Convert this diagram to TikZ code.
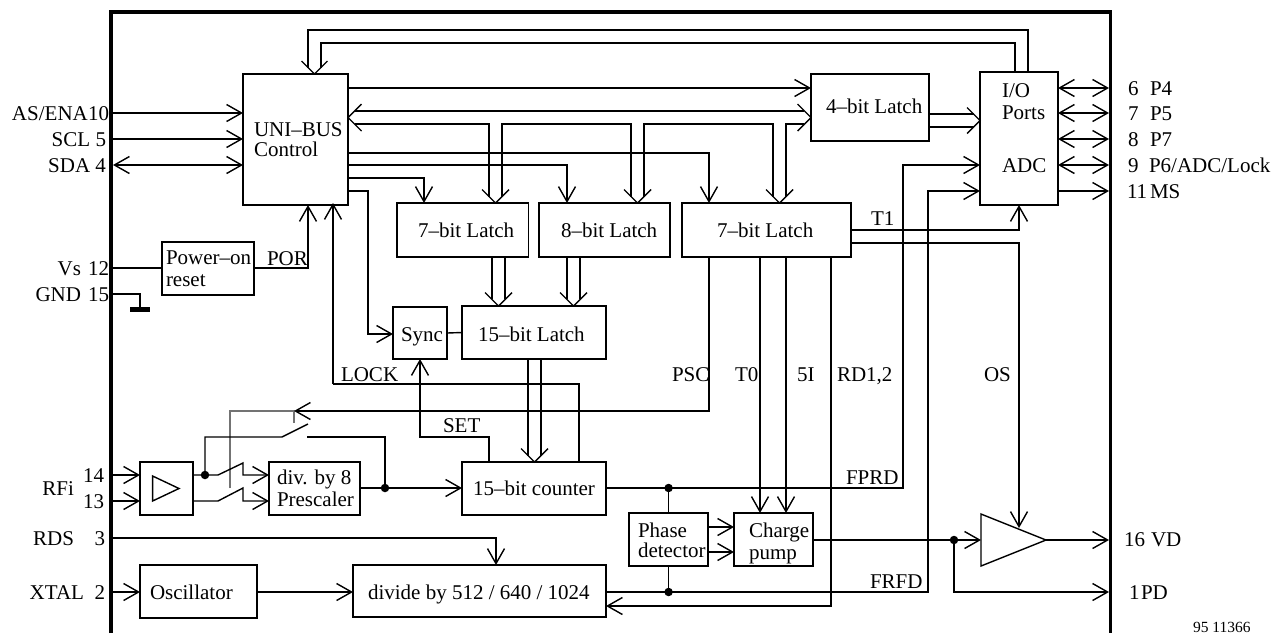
\documentclass[tikz,border=0pt]{standalone}
\usepackage{fontspec}
\setmainfont{Liberation Serif}
\usetikzlibrary{arrows.meta}
\tikzset{
  blk/.style={draw=black,line width=1.4pt,inner sep=0pt,outer sep=0pt,rectangle},
  wire/.style={draw=black,line width=1.4pt},
  ar/.style={wire,-{Straight Barb[length=15pt,width=17pt,line width=1.4pt]}},
  arb/.style={wire,{Straight Barb[length=15pt,width=17pt,line width=1.4pt]}-{Straight Barb[length=15pt,width=17pt,line width=1.4pt]}},
  chev/.style={wire,line join=miter},
  soft/.style={draw=black!55,line width=1.1pt},
  frm/.style={draw=black,line width=3.2pt,line cap=butt,line join=miter},
  txt/.style={inner sep=0pt,outer sep=0pt,font=\fontsize{21}{21}\selectfont},
  tl/.style={txt,anchor=base west},
  tr/.style={txt,anchor=base east},
  dot/.style={circle,fill=black,inner sep=0pt,minimum size=8.5pt}
}
\newcommand{\bx}[5]{\node[blk,minimum width={(#4-#2)*1pt},minimum height={(#5-#3)*1pt}] (#1) at ({(#2+#4)/2},{(#3+#5)/2}) {};}
\newcommand{\chv}[3]{\draw[chev,shift={(#1)},rotate=#3] (-#2,-#2) -- (0,0) -- (-#2,#2);}
\begin{document}
\begin{tikzpicture}[x=1pt,y=-1pt]
\path[use as bounding box] (0,0) rectangle (1272,633);
\fill[white] (0,0) rectangle (1272,633);
% frame
\draw[frm] (111,633) -- (111,12) -- (1110.5,12) -- (1110.5,633);
\coordinate (pl) at (113,0);
\coordinate (pr) at (1109,0);
% blocks
\bx{uni}{243}{74}{348}{205}
\bx{por}{162}{242}{254}{295}
\bx{la}{397}{203}{528.5}{257}
\bx{lb}{539}{203}{670}{257}
\bx{lc}{682}{203}{851}{257}
\bx{lf}{811}{74}{929}{141}
\bx{io}{980}{72}{1058}{205}
\bx{syn}{393}{307}{447}{359}
\bx{lt}{462}{306}{606}{359}
\bx{amp}{140}{462}{193}{515}
\bx{div}{269}{462}{360}{515}
\bx{cnt}{462}{462}{606}{515}
\bx{osc}{140}{565}{257}{618}
\bx{dvd}{353}{565}{606}{617}
\bx{pha}{629}{513}{708}{566}
\bx{chg}{734}{513}{813}{566}
\coordinate (tra) at (981,514); \coordinate (trb) at (981,566); \coordinate (trc) at (1046,540);
\draw[blk] (tra) -- (trc) -- (trb) -- cycle;
\draw[blk] (152.6,476) -- (179,488.5) -- (152.6,501) -- cycle;
% left pins
\draw[ar] (pl |- 0,113) -- (uni.west |- 0,113);
\draw[ar] (pl |- 0,139) -- (uni.west |- 0,139);
\draw[arb] (pl |- 0,165) -- (uni.west |- 0,165);
\draw[wire] (pl |- 0,268) -- (por.west |- 0,268);
\draw[ar] (por.east |- 0,268) -- (308,268) -- (308,205);
\draw[wire] (pl |- 0,294) -- (140,294) -- (140,308);
\fill (130,307) rectangle (150,312);
% top loops
\draw[wire] (io.north -| 1028,0) -- (1028,30) -- (308,30) -- (308,68);
\draw[wire] (io.north -| 1015,0) -- (1015,43) -- (321,43) -- (321,68);
\chv{314.5,74}{13}{270}
% uni right outputs
\draw[ar] (uni.east |- 0,88) -- (lf.west |- 0,88);
\draw[wire] (355,111) -- (804,111);
\draw[wire] (355,124) -- (489,124) -- (489,197);
\draw[wire] (502,197) -- (502,124) -- (631,124) -- (631,197);
\draw[wire] (644,197) -- (644,124) -- (773,124) -- (773,197);
\draw[wire] (786,197) -- (786,124) -- (804,124);
\chv{348,117.5}{13.5}{180}
\chv{495.5,203}{13.5}{270}
\chv{637.5,203}{13.5}{270}
\chv{779.5,203}{13.5}{270}
\chv{811,117.5}{13.5}{0}
\draw[ar] (uni.east |- 0,153) -- (709,153) -- (lc.north -| 709,0);
\draw[ar] (uni.east |- 0,165) -- (567,165) -- (lb.north -| 567,0);
\draw[ar] (uni.east |- 0,178) -- (424,178) -- (la.north -| 424,0);
\draw[ar] (uni.east |- 0,191) -- (368,191) -- (368,334) -- (syn.west |- 0,334);
% latch to latch
\draw[wire] (492,257) -- (492,299);
\draw[wire] (505,257) -- (505,299);
\chv{498.5,306}{13.5}{270}
\draw[wire] (567,257) -- (567,299);
\draw[wire] (580,257) -- (580,299);
\chv{573.5,306}{13.5}{270}
\draw[wire] (syn.east) -- (lt.west);
\draw[wire] (528,359) -- (528,456);
\draw[wire] (541,359) -- (541,456);
\chv{534.5,462}{13.5}{270}
% 4-bit to IO
\draw[wire] (lf.east |- 0,114) -- (974,114);
\draw[wire] (lf.east |- 0,127) -- (974,127);
\chv{980,120.5}{13}{0}
% lock, set
\draw[wire] (cnt.north -| 579,0) -- (579,384) -- (333,384);
\draw[ar] (333,384) -- (333,203);
\draw[ar] (cnt.north -| 489,0) -- (489,437) -- (420,437) -- (syn.south -| 420,0);
% PSC feedback
\draw[soft] (230,488) -- (230,411) -- (294,411) -- (294,423);
\draw[ar] (lc.south -| 709,0) -- (709,411) -- (294,411);
% switches
\draw[wire] (205,475) -- (205,437) -- (282,437) -- (308,424);
\draw[wire] (307,437) -- (385,437) -- (385,488);
\node[dot] (d1) at (205,475) {};
\node[dot] (d2) at (385,488) {};
\draw[ar] (amp.east |- 0,475) -- (218,475) -- (243,463) -- (243,475) -- (div.west |- 0,475);
\draw[ar] (amp.east |- 0,501) -- (218,501) -- (243,488) -- (243,501) -- (div.west |- 0,501);
\draw[ar] (pl |- 0,475) -- (amp.west |- 0,475);
\draw[ar] (pl |- 0,501) -- (amp.west |- 0,501);
\draw[ar] (div.east |- 0,488) -- (cnt.west |- 0,488);
% lower
\draw[ar] (pl |- 0,538) -- (496,538) -- (dvd.north -| 496,0);
\draw[ar] (pl |- 0,592) -- (osc.west |- 0,592);
\draw[ar] (osc.east |- 0,592) -- (dvd.west |- 0,592);
% FPRD FRFD
\draw[ar] (cnt.east |- 0,488) -- (903,488) -- (903,165) -- (io.west |- 0,165);
\draw[ar] (dvd.east |- 0,592) -- (928,592) -- (928,191) -- (io.west |- 0,191);
\node[dot] (d3) at (668.6,488) {};
\node[dot] (d4) at (668.6,592) {};
\draw[wire] (d3) -- (pha.north -| d3);
\draw[wire] (pha.south -| d4) -- (d4);
\draw[ar] (pha.east |- 0,527) -- (chg.west |- 0,527);
\draw[ar] (pha.east |- 0,552) -- (chg.west |- 0,552);
\draw[ar] (lc.south -| 760,0) -- (chg.north -| 760,0);
\draw[ar] (lc.south -| 786,0) -- (chg.north -| 786,0);
\draw[ar] (lc.south -| 831,0) -- (831,606) -- (dvd.east |- 0,606);
% output stage
\draw[ar] (chg.east |- 0,540) -- (tra |- 0,540);
\node[dot] (d5) at (954,540) {};
\draw[ar] (d5) -- (954,592) -- (pr |- 0,592);
\draw[ar] (trc) -- (pr |- 0,540);
\draw[ar] (lc.east |- 0,230) -- (1019,230) -- (io.south -| 1019,0);
\draw[ar] (lc.east |- 0,243) -- (1019,243) -- (1019,528);
% right pins
\draw[arb] (io.east |- 0,88) -- (pr |- 0,88);
\draw[arb] (io.east |- 0,113) -- (pr |- 0,113);
\draw[arb] (io.east |- 0,139) -- (pr |- 0,139);
\draw[arb] (io.east |- 0,165) -- (pr |- 0,165);
\draw[ar] (io.east |- 0,191) -- (pr |- 0,191);
% text in blocks
\node[tl] (t1) at (254,136) {UNI–BUS};
\node[tl] (t2) at (254,156) {Control};
\node[tl] (t3) at (166,264) {Power–on};
\node[tl] (t4) at (166,286) {reset};
\node[tl] (t5) at (418,237) {7–bit Latch};
\node[tl] (t6) at (561,237) {8–bit Latch};
\node[tl] (t7) at (717,237) {7–bit Latch};
\node[tl] (t8) at (826,113) {4–bit Latch};
\node[tl] (t9) at (1002,97) {I/O};
\node[tl] (t10) at (1002,119) {Ports};
\node[tl] (t11) at (1002,172) {ADC};
\node[tl] (t12) at (401,341) {Sync};
\node[tl] (t13) at (478,341) {15–bit Latch};
\node[tl] (t14) at (277,484) {div. by 8};
\node[tl] (t15) at (277,506) {Prescaler};
\node[tl] (t16) at (473,495) {15–bit counter};
\node[tl] (t17) at (150,599) {Oscillator};
\node[tl] (t18) at (368,599) {divide by 512 / 640 / 1024};
\node[tl] (t19) at (638,537) {Phase};
\node[tl] (t20) at (638,557) {detector};
\node[tl] (t21) at (749,537) {Charge};
\node[tl] (t22) at (749,559) {pump};
% signal labels
\node[tl] (s1) at (267,265) {POR};
\node[tl] (s2) at (341,381) {LOCK};
\node[tl] (s3) at (443,432) {SET};
\node[tl] (s4) at (871,225) {T1};
\node[tl] (s5) at (672,381) {PSC};
\node[tl] (s6) at (735,381) {T0};
\node[tl] (s7) at (797,381) {5I};
\node[tl] (s8) at (837,381) {RD1,2};
\node[tl] (s9) at (984,381) {OS};
\node[tl] (s10) at (846,484) {FPRD};
\node[tl] (s11) at (870,588) {FRFD};
% pin labels left
\node[tl] (p1) at (12,120) {AS/ENA};
\node[tr] (p2) at (109,120) {10};
\node[tr] (p3) at (106,146) {SCL 5};
\node[tr] (p4) at (106,172) {SDA 4};
\node[tr] (p5) at (81,275) {Vs};
\node[tr] (p6) at (109,275) {12};
\node[tr] (p7) at (81,301) {GND};
\node[tr] (p8) at (109,301) {15};
\node[tr] (p9) at (104,482) {14};
\node[tr] (p10) at (104,508) {13};
\node[tr] (p11) at (74,495) {RFi};
\node[tr] (p12) at (74,545) {RDS};
\node[tr] (p13) at (105,545) {3};
\node[tr] (p14) at (84,599) {XTAL};
\node[tr] (p15) at (105,599) {2};
% pin labels right
\node[tl] (q1) at (1128,95) {6};   \node[tl] (q2) at (1150,95) {P4};
\node[tl] (q3) at (1128,120) {7};  \node[tl] (q4) at (1150,120) {P5};
\node[tl] (q5) at (1128,146) {8};  \node[tl] (q6) at (1150,146) {P7};
\node[tl] (q7) at (1128,172) {9};  \node[tl] (q8) at (1149,172) {P6/ADC/Lock};
\node[tl] (q9) at (1127,198) {11}; \node[tl] (q10) at (1150,198) {MS};
\node[tl] (q11) at (1124,546) {16};\node[tl] (q12) at (1151,546) {VD};
\node[tl] (q13) at (1129,599) {1}; \node[tl] (q14) at (1141,599) {PD};
\node[tl,font=\fontsize{15.5}{15.5}\selectfont] (n1) at (1193,632) {95 11366};
\end{tikzpicture}
\end{document}
